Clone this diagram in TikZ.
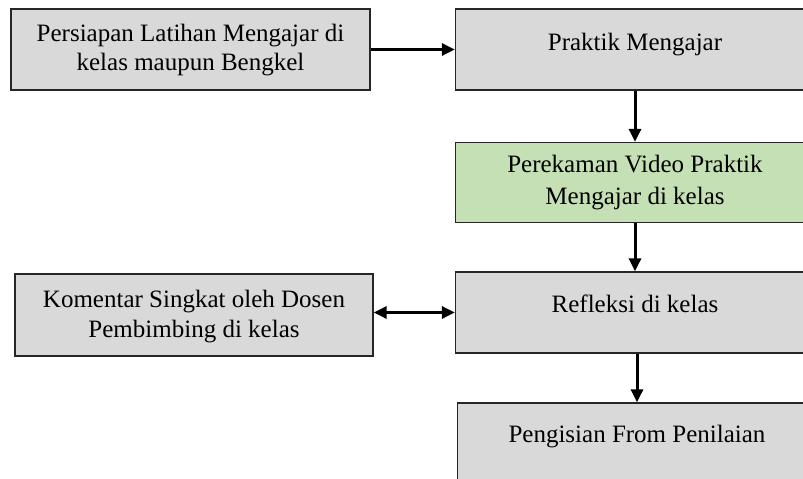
\documentclass[tikz,border=0pt]{standalone}
\usepackage{fontspec}
\setmainfont{Liberation Serif}
\usetikzlibrary{arrows.meta}
\definecolor{boxgray}{HTML}{D9D9D9}
\definecolor{boxgreen}{HTML}{C5E0B4}
\definecolor{edge}{HTML}{262626}
\begin{document}
\begin{tikzpicture}[x=1pt,y=-1pt,
  box/.style={draw=edge, line width=1.3pt, minimum width=359pt, minimum height=81pt, inner sep=0pt, fill=boxgray},
  txt/.style={anchor=base, inner sep=0pt, font=\fontsize{25}{30}\selectfont},
  arr/.style={line width=3pt, -{Triangle[length=13pt,width=12pt]}},
  darr/.style={line width=3pt, {Triangle[length=13pt,width=12pt]}-{Triangle[length=13pt,width=12pt]}}]
\useasboundingbox (0,0) rectangle (803,479);
\clip (0,0) rectangle (803,479);
\node[box] (b1) at (190.5,49.5) {};
\node[box] (b2) at (635,49.5) {};
\node[box, fill=boxgreen, minimum height=80pt] (b3) at (635,182.5) {};
\node[box] (b4) at (635,312.5) {};
\node[box, minimum width=358pt, minimum height=82pt] (b5) at (194,315) {};
\node[box] (b6) at (637,443.5) {};
% texts
\node[txt] (t1a) at (190.5,41) {Persiapan Latihan Mengajar di};
\node[txt] (t1b) at (190.5,70) {kelas maupun Bengkel};
\node[txt] (t2) at (635,50) {Praktik Mengajar};
\node[txt] (t3a) at (635,172) {Perekaman Video Praktik};
\node[txt] (t3b) at (635,204) {Mengajar di kelas};
\node[txt] (t4) at (635,312) {Refleksi di kelas};
\node[txt] (t5a) at (194,307) {Komentar Singkat oleh Dosen};
\node[txt] (t5b) at (194,337) {Pembimbing di kelas};
\node[txt] (t6) at (637,442) {Pengisian From Penilaian};
% connectors
\draw[arr] (b1.east) -- (b2.west);
\draw[arr] (b2.south) -- (b3.north);
\draw[arr] (b3.south) -- (b4.north);
\draw[arr] (b4.south -| b6.north) -- (b6.north);
\draw[darr] (b5.east |- b4.west) -- (b4.west);
\end{tikzpicture}
\end{document}
